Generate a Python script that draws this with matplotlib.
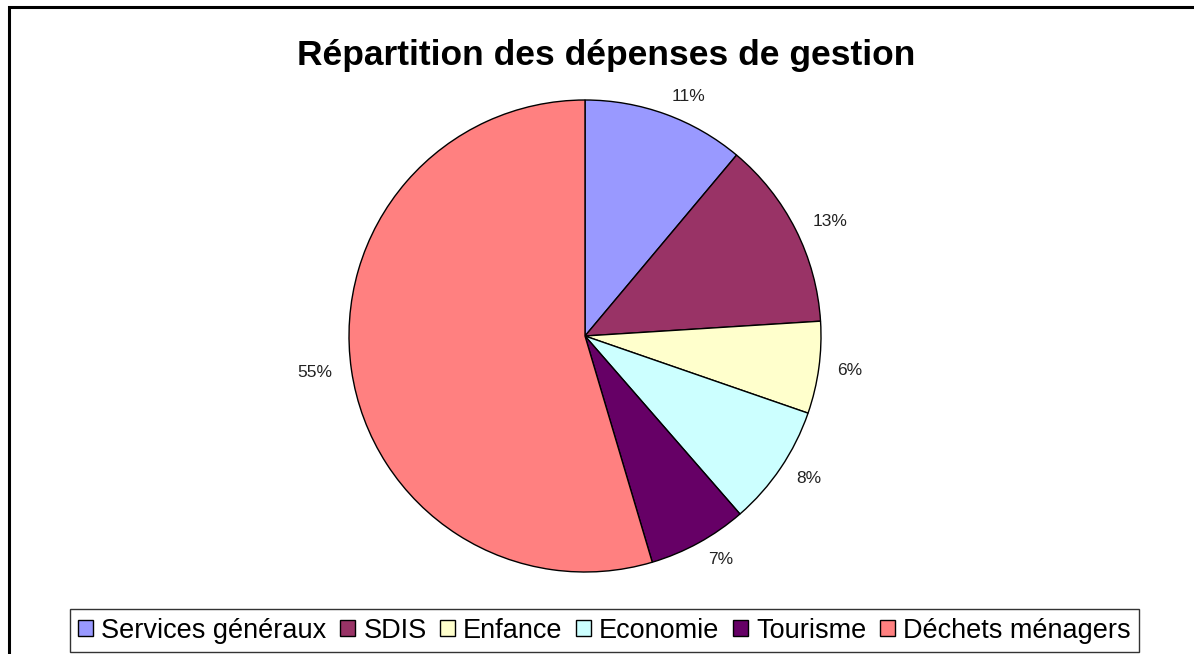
import matplotlib.pyplot as plt
from matplotlib.patches import Rectangle

plt.rcParams['font.family'] = ['Liberation Sans', 'DejaVu Sans']

categories = ['Services généraux', 'SDIS', 'Enfance', 'Economie', 'Tourisme', 'Déchets ménagers']
values = [11.1, 12.9, 6.3, 8.3, 6.8, 54.6]
pct_labels = ['11%', '13%', '6%', '8%', '7%', '55%']
colors = ['#9999FF', '#993366', '#FFFFCC', '#CCFFFF', '#660066', '#FF8080']

W, H = 1194, 654
fig = plt.figure(figsize=(W / 100, H / 100), dpi=100)

# cadre extérieur
fig.patches.append(Rectangle((9 / W, -0.05), 1.2, (H - 7) / H + 0.05, transform=fig.transFigure,
                             fill=False, edgecolor='black', linewidth=2.2))

fig.text(606 / W, 1 - 55 / H, 'Répartition des dépenses de gestion', ha='center', va='center',
         fontsize=25.5, fontweight='bold')

cx, cy, r = 585, 336, 236
ax = fig.add_axes([(cx - r) / W, (H - cy - r) / H, 2 * r / W, 2 * r / H])
wedges, texts = ax.pie(values, colors=colors, startangle=90, counterclock=False,
                       labels=pct_labels, labeldistance=1.08,
                       wedgeprops=dict(edgecolor='black', linewidth=1),
                       textprops=dict(fontsize=12.5, color='#222222'))
ax.set_aspect('equal')
ax.set_xlim(-1, 1)
ax.set_ylim(-1, 1)

leg = fig.legend(wedges, categories, loc='center', bbox_to_anchor=(604.5 / W, 1 - 630.5 / H),
                 ncol=6, fontsize=19.5, frameon=True, fancybox=False, shadow=False,
                 handlelength=0.55, handleheight=0.55, handletextpad=0.3, columnspacing=0.5,
                 borderpad=0.3, borderaxespad=0)
leg.get_frame().set_edgecolor('black')
leg.get_frame().set_linewidth(1)

fig.savefig('out.png', dpi=100)
